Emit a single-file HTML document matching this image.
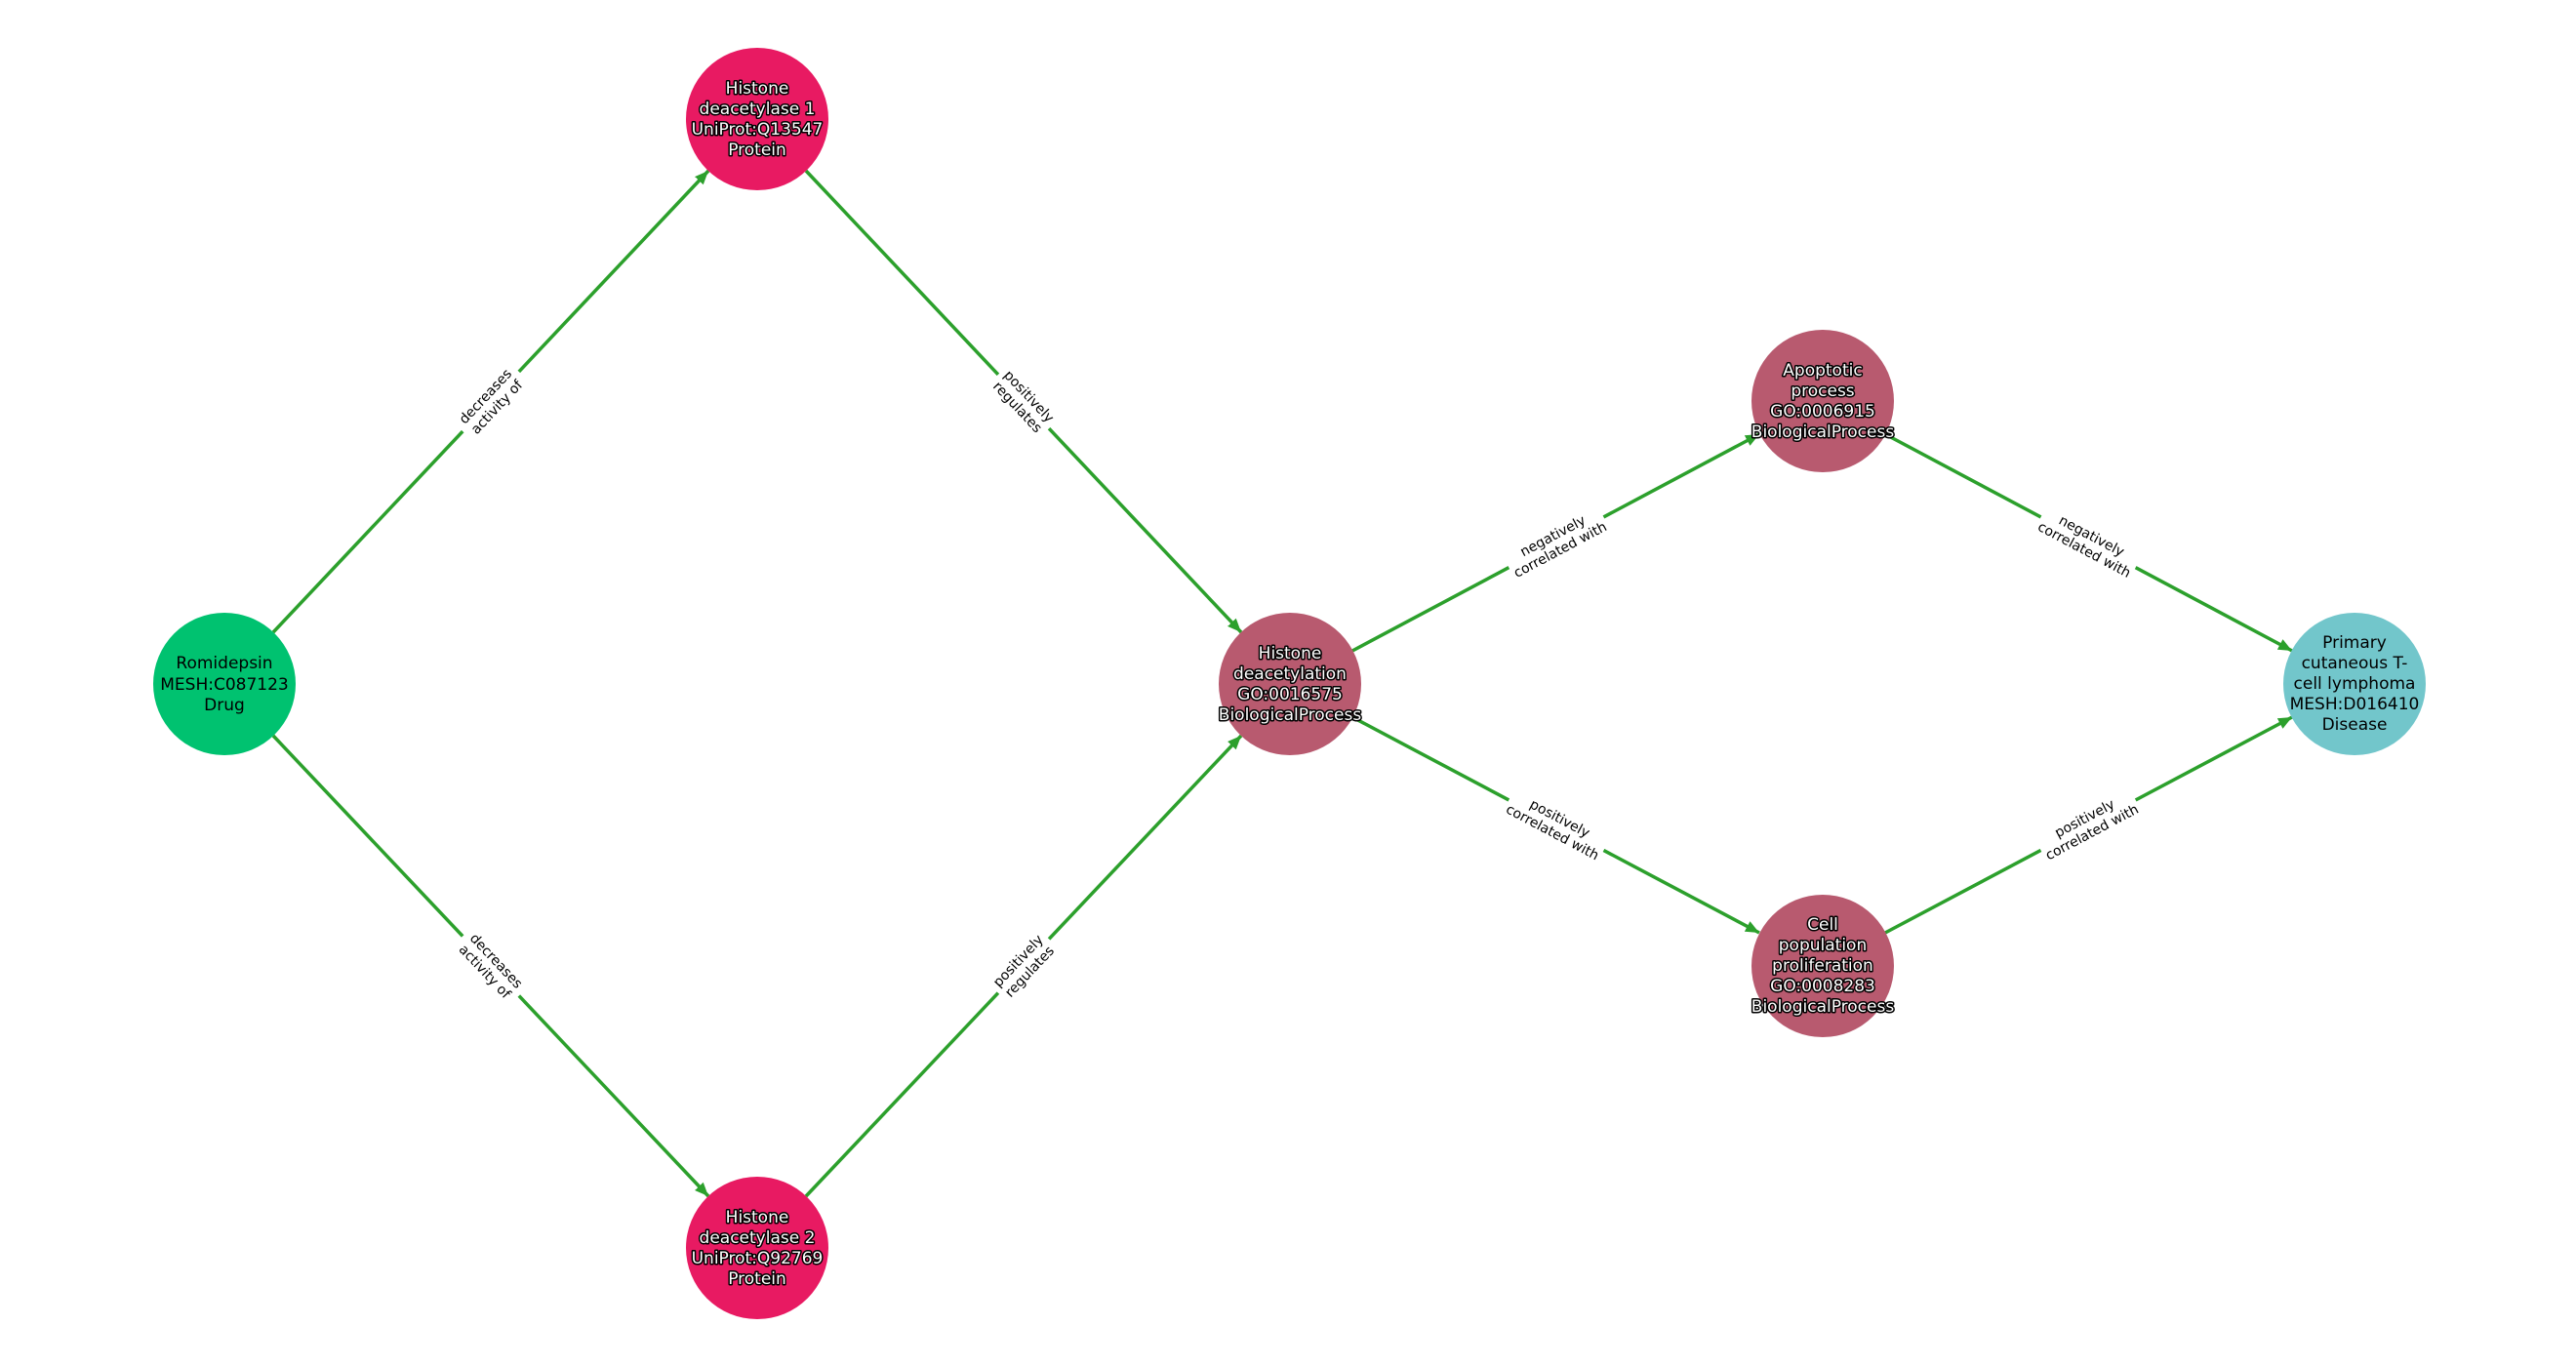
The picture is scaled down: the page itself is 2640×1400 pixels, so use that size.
<!DOCTYPE html>
<html><head><meta charset="utf-8"><style>
html,body{margin:0;padding:0;background:#fff;}
svg{display:block;}
.n{font-family:"DejaVu Sans","Liberation Sans",sans-serif;font-size:17px;text-anchor:middle;}
.w{fill:#fff;stroke:#000;stroke-width:3px;paint-order:stroke;stroke-linejoin:round;}
.b{fill:#000;}
.e{font-family:"DejaVu Sans","Liberation Sans",sans-serif;font-size:14px;text-anchor:middle;fill:#000;}
line{stroke:#2ca02c;stroke-width:3.5;}
</style></head><body>
<svg width="2640" height="1400" viewBox="0 0 2640 1400" xmlns="http://www.w3.org/2000/svg">
<defs><marker id="a" markerUnits="userSpaceOnUse" markerWidth="16" markerHeight="12" refX="14" refY="6" orient="auto"><path d="M0,0 L14,6 L0,12 z" fill="#2ca02c"/></marker></defs>
<line x1="280" y1="648" x2="726" y2="175" marker-end="url(#a)"/>
<line x1="826" y1="175" x2="1272" y2="648" marker-end="url(#a)"/>
<line x1="280" y1="754" x2="726" y2="1226" marker-end="url(#a)"/>
<line x1="826" y1="1226" x2="1272" y2="754" marker-end="url(#a)"/>
<line x1="1386" y1="667" x2="1803" y2="445" marker-end="url(#a)"/>
<line x1="1932" y1="445" x2="2349" y2="667" marker-end="url(#a)"/>
<line x1="1386" y1="735" x2="1803" y2="956" marker-end="url(#a)"/>
<line x1="1932" y1="956" x2="2349" y2="735" marker-end="url(#a)"/>

<g transform="translate(503,411.5) rotate(-46.7)"><rect x="-42" y="-18" width="84" height="36" fill="#fff"/><text class="e" y="-3">decreases</text><text class="e" y="13">activity of</text></g>
<g transform="translate(1049,411.5) rotate(46.7)"><rect x="-38" y="-18" width="76" height="36" fill="#fff"/><text class="e" y="-3">positively</text><text class="e" y="13">regulates</text></g>
<g transform="translate(503,990) rotate(46.7)"><rect x="-42" y="-18" width="84" height="36" fill="#fff"/><text class="e" y="-3">decreases</text><text class="e" y="13">activity of</text></g>
<g transform="translate(1049,990) rotate(-46.7)"><rect x="-38" y="-18" width="76" height="36" fill="#fff"/><text class="e" y="-3">positively</text><text class="e" y="13">regulates</text></g>
<g transform="translate(1595,556) rotate(-28)"><rect x="-55" y="-18" width="110" height="36" fill="#fff"/><text class="e" y="-3">negatively</text><text class="e" y="13">correlated with</text></g>
<g transform="translate(2140,556) rotate(28)"><rect x="-55" y="-18" width="110" height="36" fill="#fff"/><text class="e" y="-3">negatively</text><text class="e" y="13">correlated with</text></g>
<g transform="translate(1595,845.5) rotate(28)"><rect x="-55" y="-18" width="110" height="36" fill="#fff"/><text class="e" y="-3">positively</text><text class="e" y="13">correlated with</text></g>
<g transform="translate(2140,845.5) rotate(-28)"><rect x="-55" y="-18" width="110" height="36" fill="#fff"/><text class="e" y="-3">positively</text><text class="e" y="13">correlated with</text></g>

<circle cx="230" cy="701" r="73" fill="#00c270"/>
<text class="n b" x="230" y="685">Romidepsin</text><text class="n b" x="230" y="707">MESH:C087123</text><text class="n b" x="230" y="728">Drug</text>

<circle cx="776" cy="122" r="73" fill="#e81a62"/>
<text class="n w" x="776" y="96">Histone</text><text class="n w" x="776" y="117">deacetylase 1</text><text class="n w" x="776" y="138">UniProt:Q13547</text><text class="n w" x="776" y="159">Protein</text>

<circle cx="776" cy="1279" r="73" fill="#e81a62"/>
<text class="n w" x="776" y="1253">Histone</text><text class="n w" x="776" y="1274">deacetylase 2</text><text class="n w" x="776" y="1295">UniProt:Q92769</text><text class="n w" x="776" y="1316">Protein</text>

<circle cx="1322" cy="701" r="73" fill="#b85a6f"/>
<text class="n w" x="1322" y="675">Histone</text><text class="n w" x="1322" y="696">deacetylation</text><text class="n w" x="1322" y="717">GO:0016575</text><text class="n w" x="1322" y="738">BiologicalProcess</text>

<circle cx="1868" cy="411" r="73" fill="#b85a6f"/>
<text class="n w" x="1868" y="385">Apoptotic</text><text class="n w" x="1868" y="406">process</text><text class="n w" x="1868" y="427">GO:0006915</text><text class="n w" x="1868" y="448">BiologicalProcess</text>

<circle cx="1868" cy="990" r="73" fill="#b85a6f"/>
<text class="n w" x="1868" y="953">Cell</text><text class="n w" x="1868" y="974">population</text><text class="n w" x="1868" y="995">proliferation</text><text class="n w" x="1868" y="1016">GO:0008283</text><text class="n w" x="1868" y="1037">BiologicalProcess</text>

<circle cx="2413" cy="701" r="73" fill="#72c6cb"/>
<text class="n b" x="2413" y="664">Primary</text><text class="n b" x="2413" y="685">cutaneous T-</text><text class="n b" x="2413" y="706">cell lymphoma</text><text class="n b" x="2413" y="727">MESH:D016410</text><text class="n b" x="2413" y="748">Disease</text>
</svg>
</body></html>
